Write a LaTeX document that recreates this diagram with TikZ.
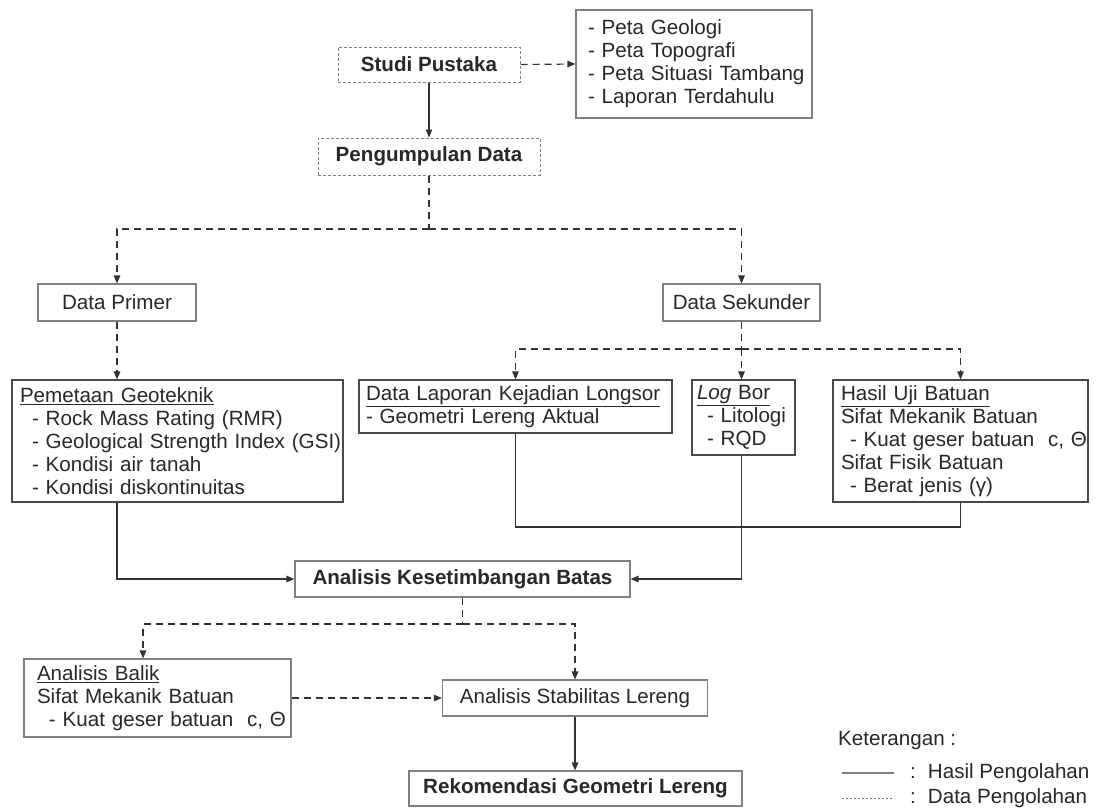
\documentclass[tikz,border=0pt]{standalone}
\usepackage{fontspec}
\setmainfont{Liberation Sans}
\usetikzlibrary{arrows.meta,calc}
\newcommand{\fs}{\fontsize{20.6}{23}\selectfont}
\newcommand{\nbx}[1]{\mbox{#1}}
\definecolor{txt}{HTML}{282828}
\definecolor{ln}{HTML}{333333}
\definecolor{bd}{HTML}{808080}
\definecolor{bdd}{HTML}{4A4A4A}
\begin{document}
\begin{tikzpicture}[x=1pt,y=-1pt,
  every node/.style={font=\fs, text=txt},
  box/.style={draw=bd, line width=1.1pt, inner sep=0pt, fill=white},
  dbox/.style={box, draw=bdd},
  dotbox/.style={box, draw=bd, dash pattern=on 3pt off 2pt, line width=1pt},
  solidc/.style={draw=ln, line width=1.2pt},
  dashc/.style={draw=ln, line width=1.2pt, dash pattern=on 7pt off 5pt},
  tip/.style={-{Triangle[length=8pt,width=6.5pt]}},
]
\fill[white] (0,0) rectangle (1098,807);
\useasboundingbox (0,0) rectangle (1098,807);

% nodes
\node[dotbox, minimum width=182pt, minimum height=35pt, font=\fs\bfseries] (sp) at (429,64.5) {Studi Pustaka};
\node[box, minimum width=236pt, minimum height=108pt, align=left, text width=212pt, inner xsep=12pt] (lst) at (694,64)
  {\nbx{- Peta Geologi}\\\nbx{- Peta Topografi}\\\nbx{- Peta Situasi Tambang}\\\nbx{- Laporan Terdahulu}};
\node[dotbox, minimum width=222pt, minimum height=37pt, font=\fs\bfseries] (pd) at (429,156.5) {Pengumpulan Data};
\node[box, minimum width=158pt, minimum height=37pt] (dp) at (117,302.5) {Data Primer};
\node[box, minimum width=157pt, minimum height=37pt] (ds) at (741.5,302.5) {Data Sekunder};

\node[dbox, minimum width=331pt, minimum height=122pt, align=left, text width=315pt, inner xsep=8pt] (pem) at (177.5,441)
  {\nbx{\underline{Pemetaan Geoteknik}}\\
   \nbx{\hspace*{12pt}- Rock Mass Rating (RMR)}\\
   \nbx{\hspace*{12pt}- Geological Strength Index (GSI)}\\
   \nbx{\hspace*{12pt}- Kondisi air tanah}\\
   \nbx{\hspace*{12pt}- Kondisi diskontinuitas}};
\node[dbox, minimum width=313pt, minimum height=53pt, align=left, text width=299pt, inner xsep=7pt] (lap) at (515.5,406.5)
  {\nbx{\underline{Data Laporan Kejadian Longsor}}\\\nbx{- Geometri Lereng Aktual}};
\node[dbox, minimum width=103pt, minimum height=75pt, align=left, text width=93pt, inner xsep=5pt] (lb) at (743.5,417.5)
  {\nbx{\underline{\textit{Log} Bor}}\\\nbx{\hspace*{10pt}- Litologi}\\\nbx{\hspace*{10pt}- RQD}};
\node[dbox, minimum width=255pt, minimum height=122pt, align=left, text width=239pt, inner xsep=8pt] (hu) at (960.5,441)
  {\nbx{\underline{Hasil Uji Batuan}}\\
   \nbx{Sifat Mekanik Batuan}\\
   \nbx{\hspace*{9pt}- Kuat geser batuan\ \ c, Θ}\\
   \nbx{Sifat Fisik Batuan}\\
   \nbx{\hspace*{9pt}- Berat jenis (γ)}};

\node[box, minimum width=335pt, minimum height=36pt, font=\fs\bfseries] (akb) at (462.5,579) {Analisis Kesetimbangan Batas};
\node[box, minimum width=267pt, minimum height=78pt, align=left, text width=241pt, inner xsep=13pt] (ab) at (157.5,698)
  {\nbx{\underline{Analisis Balik}}\\
   \nbx{Sifat Mekanik Batuan}\\
   \nbx{\hspace*{12pt}- Kuat geser batuan\ \ c, Θ}};
\node[box, minimum width=265pt, minimum height=36pt] (stab) at (575,698) {Analisis Stabilitas Lereng};
\node[box, minimum width=333pt, minimum height=35pt, font=\fs\bfseries] (rek) at (575.5,788.5) {Rekomendasi Geometri Lereng};

% connectors
\draw[solidc, tip] (sp.south) -- (pd.north);
\draw[dashc, tip] (sp.east) -- (lst.west);
\coordinate (j1) at (429,229);
\draw[dashc] (pd.south) -- (j1);
\draw[dashc, tip] (j1) -| (dp.north);
\draw[dashc, tip] (j1) -| (ds.north);
\draw[dashc, tip] (dp.south) -- (dp.south |- pem.north);
\coordinate (j2) at (741.5,349);
\draw[dashc] (ds.south) -- (j2);
\draw[dashc, tip] (j2) -| (lap.north);
\draw[dashc, tip] (j2) -| (hu.north);
\draw[dashc, tip] (j2) -- (j2 |- lb.north);
\draw[solidc, tip] (pem.south -| dp.south) |- (akb.west);
\coordinate (j3) at (515.5,527);
\draw[solidc] (lap.south) -- (j3) -| (hu.south);
\draw[solidc, tip] (lb.south -| j2) |- (akb.east);
\coordinate (j4) at (462.5,624);
\draw[dashc] (akb.south) -- (j4);
\draw[dashc, tip] (j4) -| ([xshift=-14.5pt]ab.north);
\draw[dashc, tip] (j4) -| (stab.north);
\draw[dashc, tip] (ab.east) -- (stab.west);
\draw[solidc, tip] (stab.south) -- (stab.south |- rek.north);

% legend
\node[anchor=west, inner sep=0pt] (ket) at (838,741) {Keterangan :};
\coordinate (l1a) at (842,773); \coordinate (l1b) at (894,773);
\coordinate (l2a) at (842,798); \coordinate (l2b) at (894,798);
\draw[draw=bd, line width=1.2pt] (l1a) -- (l1b);
\draw[draw=bd, line width=0.8pt, dash pattern=on 2pt off 2pt] (l2a) -- (l2b);
\node[anchor=west, inner sep=0pt] (k1) at (910,773) {:\hspace{12pt}Hasil Pengolahan};
\node[anchor=west, inner sep=0pt] (k2) at (910,798) {:\hspace{12pt}Data Pengolahan};
\end{tikzpicture}
\end{document}
